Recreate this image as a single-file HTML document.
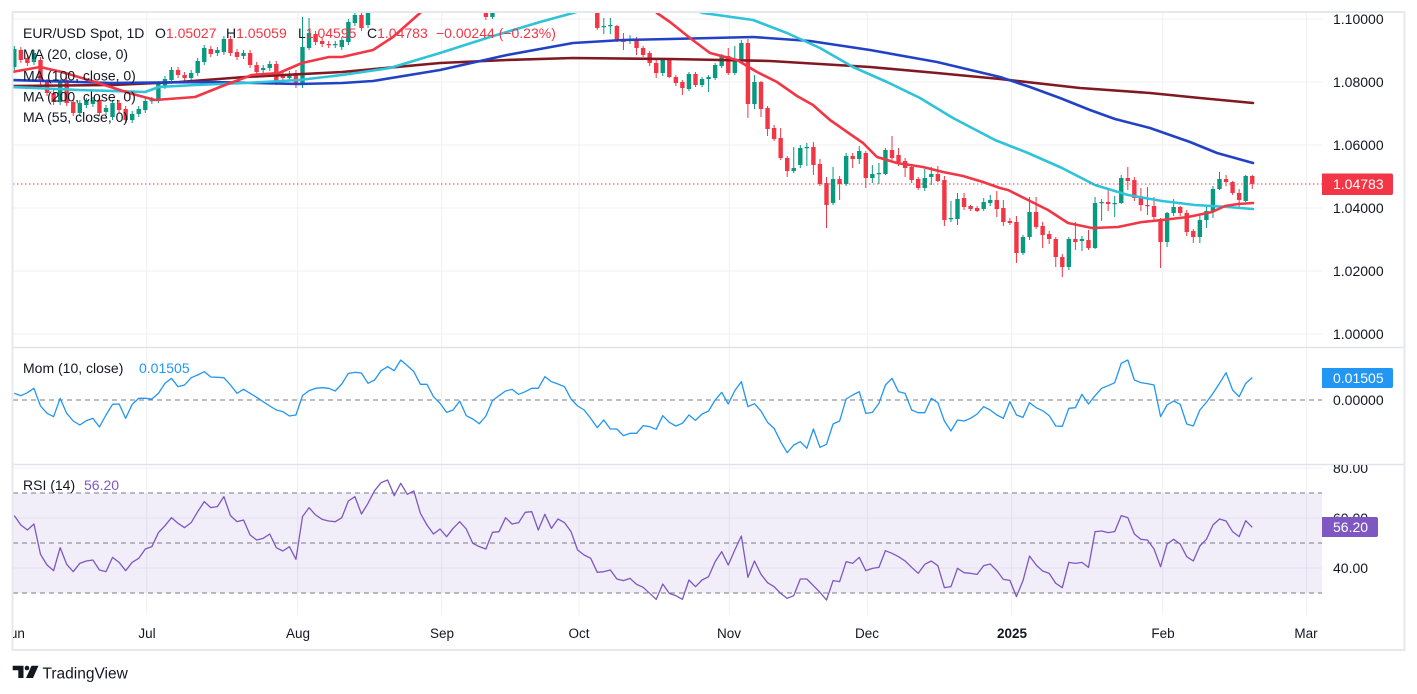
<!DOCTYPE html>
<html><head><meta charset="utf-8">
<style>
html,body{margin:0;padding:0;background:#fff;}
svg{display:block;font-family:"Liberation Sans",Arial,sans-serif;}
</style></head>
<body>
<svg width="1417" height="694" viewBox="0 0 1417 694" xmlns="http://www.w3.org/2000/svg">
<defs>
<clipPath id="cm"><rect x="13" y="13" width="1309" height="334"/></clipPath>
<clipPath id="cmo"><rect x="13" y="348" width="1309" height="116"/></clipPath>
<clipPath id="cr"><rect x="13" y="465" width="1309" height="136"/></clipPath>
<clipPath id="call"><rect x="13" y="13" width="1391" height="636"/></clipPath>
<clipPath id="cax"><rect x="1322" y="465" width="82" height="140"/></clipPath>
</defs>
<rect x="0" y="0" width="1417" height="694" fill="#fff"/>
<!-- grid -->
<g stroke="#F0F2F6" stroke-width="1">
<line x1="13" y1="19" x2="1322" y2="19"/>
<line x1="13" y1="82" x2="1322" y2="82"/>
<line x1="13" y1="145" x2="1322" y2="145"/>
<line x1="13" y1="208" x2="1322" y2="208"/>
<line x1="13" y1="271" x2="1322" y2="271"/>
<line x1="13" y1="334" x2="1322" y2="334"/>
<line x1="13" y1="468" x2="1322" y2="468"/>
<line x1="13" y1="518" x2="1322" y2="518"/>
<line x1="13" y1="568" x2="1322" y2="568"/>
</g>
<g stroke="#EEF0F4" stroke-width="1">
<line x1="146.7" y1="13" x2="146.7" y2="615"/>
<line x1="297.7" y1="13" x2="297.7" y2="615"/>
<line x1="441.7" y1="13" x2="441.7" y2="615"/>
<line x1="579" y1="13" x2="579" y2="615"/>
<line x1="729.3" y1="13" x2="729.3" y2="615"/>
<line x1="867.3" y1="13" x2="867.3" y2="615"/>
<line x1="1011.7" y1="13" x2="1011.7" y2="615"/>
<line x1="1162.7" y1="13" x2="1162.7" y2="615"/>
<line x1="1306.5" y1="13" x2="1306.5" y2="615"/>
</g>
<!-- RSI band -->
<rect x="13" y="493" width="1309" height="100" fill="rgba(126,87,194,0.1)"/>
<g stroke="#787B86" stroke-width="1" stroke-dasharray="5 4">
<line x1="13" y1="493" x2="1322" y2="493"/>
<line x1="13" y1="543" x2="1322" y2="543"/>
<line x1="13" y1="593" x2="1322" y2="593"/>
<line x1="13" y1="400" x2="1322" y2="400"/>
</g>

<!-- candles -->
<g clip-path="url(#cm)">
<g transform="translate(14.3,0) scale(6.55,1)" fill="none">
<path stroke="#089981" stroke-width="0.153" d="M0 46V70M3 50V65M7 79V105M10 100V116M11 98V108M12 97V107M14 105V115M15 100V120M18 111V123M19 106V117M20 98V113M21 97V104M22 81V103M23 76V89M24 67V83M27 70V81M28 58V76M29 45V65M31 47V56M32 36V55M35 50V59M38 65V73M39 61V71M42 71V81M44 17V88M45 18V50M49 41V48M50 37V50M51 19V45M52 12V26M54 2V28M73 4V19M90 18V34M91 18V34M94 35V44M99 58V76M103 72V91M105 77V87M106 75V92M107 63V80M108 54V68M110 46V75M111 40V61M113 75V109M119 147V173M120 145V168M121 143V166M125 167V205M127 153V186M129 146V164M131 165V183M132 163V184M133 148V175M139 169V191M140 167V185M143 201V222M144 193V225M148 198V211M149 195V206M154 235V255M155 197V240M161 237V270M163 236V251M165 197V249M166 199V221M168 196V217M169 175V204M176 212V247M177 199V216M181 214V243M182 207V228M183 186V218M184 172V190M188 175V202"/>
<path stroke="#089981" stroke-width="0.672" d="M0 49V67M3 53V62M7 82V102M10 103V113M11 101V105M12 100V104M14 108V112M15 103V117M18 114V120M19 109V114M20 101V110M21 100V101.3M22 84V100M23 79V86M24 70V80M27 73V78M28 61V73M29 48V62M31 50V53M32 39V52M35 53V56M38 68V70M39 64V68M42 74V78M44 47V85M45 33V48M49 44V45.3M50 40V47M51 22V42M52 15V23M54 5V25M73 11V17M90 26V27.3M91 25V26.3M94 39V40.3M99 60V73M103 74V89M105 79V85M106 77V79M107 65V78M108 56V66M110 59V73M111 43V59M113 82V104M119 168V171M120 148V165M121 147V148.3M125 179V203M127 156V184M129 151V159M131 174V178M132 173V174.3M133 150V174M139 178V188M140 174V177M143 218V219.3M144 199V219M148 202V209M149 200V203M154 237V253M155 212V237M161 239V267M163 239V241M165 203V248M166 202V203.3M168 203V204.3M169 178V203M176 213V242M177 207V213M181 220V237M182 211V220M183 189V212M184 179V189M188 176V201"/>
<path stroke="#F23645" stroke-width="0.153" d="M1 47V63M2 55V66M4 57V85M5 79V96M6 90V105M8 77V106M9 99V116M13 97V116M16 100V113M17 106V123M25 67V78M26 72V81M30 46V57M33 36V56M34 49V60M36 50V68M37 62V75M40 61V85M41 71V81M43 70V88M46 31V45M47 38V47M48 41V48M53 12V31M72 2V20M89 -5V30M92 25V42M93 33V50M95 37V55M96 46V57M97 51V66M98 58V78M100 58V78M101 75V86M102 80V95M104 72V87M109 48V75M112 39V118M114 81V117M115 106V136M116 125V141M117 128V160M118 156V177M122 142V175M123 159V186M124 177V228M126 176V200M128 153V168M130 151V188M134 136V160M135 148V166M136 158V177M137 165V183M138 177V190M141 166V182M142 176V226M145 193V210M146 205V211M147 206V212M150 191V217M151 200V226M152 218V225M153 216V263M156 197V229M157 222V248M158 231V244M159 237V267M160 254V277M162 222V250M164 230V250M167 190V211M170 167V190M171 177V201M172 188V211M173 187V215M174 197V220M175 218V268M178 206V216M179 210V236M180 229V243M185 175V186M186 181V195M187 189V209M189 175V189"/>
<path stroke="#F23645" stroke-width="0.672" d="M1 50V60M2 58V63M4 60V82M5 82V93M6 93V102M8 80V103M9 102V113M13 100V113M16 103V110M17 109V120M25 70V75M26 75V78M30 49V54M33 39V53M34 52V57M36 53V65M37 65V72M40 64V82M41 74V78M43 73V85M46 34V42M47 41V44M48 44V45.3M53 15V28M72 9V17M89 5V28M92 26V40M93 39V42M95 39V48M96 48V55M97 53V63M98 63V73M100 60V77M101 77V83M102 82V88M104 74V85M109 56V73M112 43V104M114 82V109M115 108V129M116 128V139M117 138V158M118 158V171M122 147V165M123 164V184M124 183V205M126 179V184M128 156V159M130 153V178M134 150V158M135 155V162M136 161V168M137 167V180M138 179V188M141 174V181M142 180V220M145 198V207M146 206V209M147 208V211M150 200V209M151 208V222M152 221V223M153 222V253M156 212V227M157 226V235M158 234V239M159 239V257M160 257V267M162 239V242M164 240V248M167 202V204M170 178V181M171 180V198M172 198V205M173 205V206.3M174 206V217M175 220V242M178 207V213M179 213V232M180 231V237M185 179V182M186 182V193M187 193V200M189 176V184"/>
</g>
<!-- MAs -->
<g fill="none" stroke-linejoin="round" stroke-linecap="round" stroke-width="2.6">
<polyline stroke="#801922" points="12,86 112,85 179,82 245,77 342,72 440,63 507,60 573,58 670,59 770,61 870,67 937,73 1000,79 1080,88 1150,93 1200,98 1253,103"/>
<polyline stroke="#2142C4" points="12,80 112,83 212,82 299,84 342,83 373,81 440,70 507,55 573,43 623,40 670,39 753,37 810,41 870,50 937,62 1000,77 1030,87 1060,98 1090,110 1115,119 1150,128 1190,142 1217,153 1253,163"/>
<polyline stroke="#2DC3D8" points="12,87 79,90 145,92 159,87 195,85 245,83 299,80 342,75 390,68 440,53 490,37 540,22 573,13 590,8 620,3 660,3 690,9 703,13 753,20 787,33 820,48 853,67 887,82 920,98 953,118 995,140 1028,153 1062,168 1095,185 1128,195 1162,201 1195,205 1228,207 1253,209"/>
<polyline stroke="#F23645" points="12,72 40,67 62,72 95,82 129,93 155,100 195,97 225,85 252,75 279,73 302,63 329,57 342,57 373,50 393,37 420,13 430,5 450,-15 480,-40 620,-40 645,-5 657,13 670,22 690,38 710,53 737,60 757,72 777,82 797,96 813,105 830,120 850,134 863,143 877,157 897,163 923,167 943,172 963,176 983,182 1000,188 1008,190 1028,200 1048,210 1068,223 1092,228 1118,227 1142,222 1162,220 1188,217 1212,212 1225,206 1238,204 1253,203"/>
</g>
</g>
<line x1="13" y1="184" x2="1322" y2="184" stroke="#F23645" stroke-width="1" stroke-dasharray="1.5 2.5"/>

<!-- Momentum -->
<g clip-path="url(#cmo)">
<polyline fill="none" stroke="#2196F3" stroke-width="1.3" vector-effect="non-scaling-stroke" stroke-linejoin="round" transform="translate(14.3,345) scale(6.55,0.333333)" points="0,145 1,152 2,143 3,130 4,183 5,205 6,215 7,160 8,205 9,228 10,240 11,227 12,220 13,246 14,210 15,178 16,177 17,220 18,178 19,160 20,160 21,162 22,145 23,115 24,100 25,125 26,120 27,98 28,90 29,80 30,96 31,97 32,98 33,120 34,145 35,133 36,145 37,157 38,170 39,183 40,195 41,200 42,213 43,210 44,152 45,137 46,130 47,128 48,130 49,138 50,117 51,85 52,82 53,84 54,115 55,105 56,77 57,65 58,77 59,45 60,62 61,80 62,118 63,118 64,155 65,175 66,202 67,195 68,168 69,212 70,222 71,236 72,213 73,167 74,152 75,138 76,133 77,148 78,140 79,130 80,130 81,95 82,110 83,117 84,125 85,162 86,183 87,195 88,220 89,248 90,225 91,252 92,252 93,272 94,265 95,265 96,242 97,245 98,253 99,212 100,232 101,243 102,235 103,210 104,226 105,207 106,198 107,165 108,142 109,177 110,137 111,110 112,185 113,176 114,198 115,232 116,250 117,290 118,323 119,300 120,290 121,310 122,252 123,307 124,298 125,237 126,228 127,162 128,150 129,140 130,205 131,202 132,175 133,120 134,100 135,140 136,145 137,195 138,203 139,203 140,160 141,173 142,228 143,258 144,225 145,228 146,220 147,207 148,185 149,195 150,210 151,220 152,170 153,210 154,217 155,173 156,188 157,197 158,212 159,243 160,244 161,190 162,188 163,148 164,177 165,152 166,130 167,122 168,113 169,55 170,45 171,105 172,113 173,116 174,120 175,215 176,180 177,168 178,178 179,237 180,243 181,195 182,172 183,145 184,115 185,83 186,135 187,155 188,115 189,98"/>
</g>
<!-- RSI -->
<g clip-path="url(#cr)">
<polyline fill="none" stroke="#7E57C2" stroke-width="1.3" vector-effect="non-scaling-stroke" stroke-linejoin="round" transform="translate(14.3,345) scale(6.55,0.333333)" points="0,512 1,540 2,555 3,537 4,628 5,660 6,677 7,608 8,658 9,680 10,655 11,648 12,645 13,675 14,680 15,637 16,652 17,677 18,652 19,640 20,612 21,605 22,563 23,542 24,518 25,535 26,548 27,533 28,500 29,470 30,488 31,485 32,455 33,512 34,530 35,525 36,570 37,585 38,580 39,567 40,608 41,618 42,605 43,643 44,515 45,488 46,510 47,523 48,528 49,530 50,518 51,468 52,455 53,507 54,475 55,437 56,413 57,405 58,452 59,415 60,448 61,438 62,505 63,540 64,567 65,552 66,575 67,550 68,530 69,552 70,595 71,605 72,612 73,562 74,560 75,518 76,537 77,533 78,502 79,500 80,555 81,508 82,550 83,522 84,533 85,560 86,615 87,630 88,640 89,682 90,680 91,675 92,702 93,707 94,700 95,718 96,727 97,745 98,763 99,717 100,745 101,752 102,763 103,705 104,725 105,705 106,695 107,650 108,620 109,660 110,615 111,573 112,697 113,648 114,688 115,713 116,725 117,745 118,760 119,752 120,702 121,702 122,722 123,742 124,765 125,707 126,710 127,650 128,655 129,637 130,677 131,670 132,667 133,617 134,625 135,635 136,648 137,667 138,685 139,658 140,648 141,662 142,728 143,725 144,670 145,683 146,685 147,688 148,662 149,657 150,677 151,703 152,706 153,755 154,707 155,633 156,660 157,678 158,685 159,715 160,728 161,652 162,655 163,652 164,667 165,560 166,558 167,563 168,560 169,512 170,518 171,567 172,583 173,585 174,612 175,665 176,597 177,583 178,597 179,635 180,648 181,603 182,583 183,540 184,522 185,528 186,560 187,575 188,527 189,547"/>
</g>

<!-- separators -->
<line x1="13" y1="347.5" x2="1404" y2="347.5" stroke="#E0E3EB" stroke-width="1.5"/>
<line x1="13" y1="464.5" x2="1404" y2="464.5" stroke="#E0E3EB" stroke-width="1.5"/>
<!-- frame -->
<rect x="12.5" y="12" width="1392" height="638" fill="none" stroke="#E6E8EE" stroke-width="2"/>

<!-- legend -->
<g font-size="14" fill="#131722">
<text x="23" y="38">EUR/USD Spot, 1D</text>
<text x="155" y="38">O<tspan fill="#F23645">1.05027</tspan></text>
<text x="226" y="38">H<tspan fill="#F23645">1.05059</tspan></text>
<text x="298" y="38">L<tspan fill="#F23645">1.04595</tspan></text>
<text x="367" y="38">C<tspan fill="#F23645">1.04783</tspan></text>
<text x="436" y="38" fill="#F23645">−0.00244 (−0.23%)</text>
<text x="23" y="59">MA (20, close, 0)</text>
<text x="23" y="80.5">MA (100, close, 0)</text>
<text x="23" y="101.5">MA (200, close, 0)</text>
<text x="23" y="122">MA (55, close, 0)</text>
<text x="23" y="373">Mom (10, close)</text>
<text x="139" y="373" fill="#2196F3">0.01505</text>
<text x="23" y="490">RSI (14)</text>
<text x="84" y="490" fill="#7E57C2">56.20</text>
</g>

<!-- price axis -->
<g font-size="14" fill="#131722">
<text x="1333" y="24">1.10000</text>
<text x="1333" y="87">1.08000</text>
<text x="1333" y="150">1.06000</text>
<text x="1333" y="213">1.04000</text>
<text x="1333" y="276">1.02000</text>
<text x="1333" y="339">1.00000</text>
<text x="1333" y="405">0.00000</text>
<g clip-path="url(#cax)">
<text x="1333" y="473">80.00</text>
<text x="1333" y="523">60.00</text>
<text x="1333" y="573">40.00</text>
</g>
</g>
<path d="M1322 173.5 H1391 a2 2 0 0 1 2 2 V193 a2 2 0 0 1 -2 2 H1322 Z" fill="#F23645"/>
<text x="1333" y="189" font-size="14" fill="#fff">1.04783</text>
<path d="M1322 368 H1391 a2 2 0 0 1 2 2 V386 a2 2 0 0 1 -2 2 H1322 Z" fill="#2196F3"/>
<text x="1333" y="383" font-size="14" fill="#fff">0.01505</text>
<path d="M1322 517 H1376 a2 2 0 0 1 2 2 V535 a2 2 0 0 1 -2 2 H1322 Z" fill="#7E57C2"/>
<text x="1333" y="532" font-size="14" fill="#fff">56.20</text>

<!-- time axis -->
<g font-size="13.5" fill="#131722" text-anchor="middle" clip-path="url(#call)">
<text x="14" y="638">Jun</text>
<text x="147" y="638">Jul</text>
<text x="298" y="638">Aug</text>
<text x="442" y="638">Sep</text>
<text x="579" y="638">Oct</text>
<text x="729" y="638">Nov</text>
<text x="867" y="638">Dec</text>
<text x="1012" y="638" font-weight="bold">2025</text>
<text x="1163" y="638">Feb</text>
<text x="1306" y="638">Mar</text>
</g>

<!-- TradingView logo -->
<g fill="#131722">
<path d="M12.7 665.7 H23.5 V678 H18.3 V670.3 H12.7 Z"/>
<circle cx="27" cy="668" r="2.3"/>
<path d="M31.5 665.7 H38.5 L33 678 H26 Z"/>
</g>
<text x="42.5" y="678.5" font-size="15.5" fill="#131722">TradingView</text>
</svg>
</body></html>
